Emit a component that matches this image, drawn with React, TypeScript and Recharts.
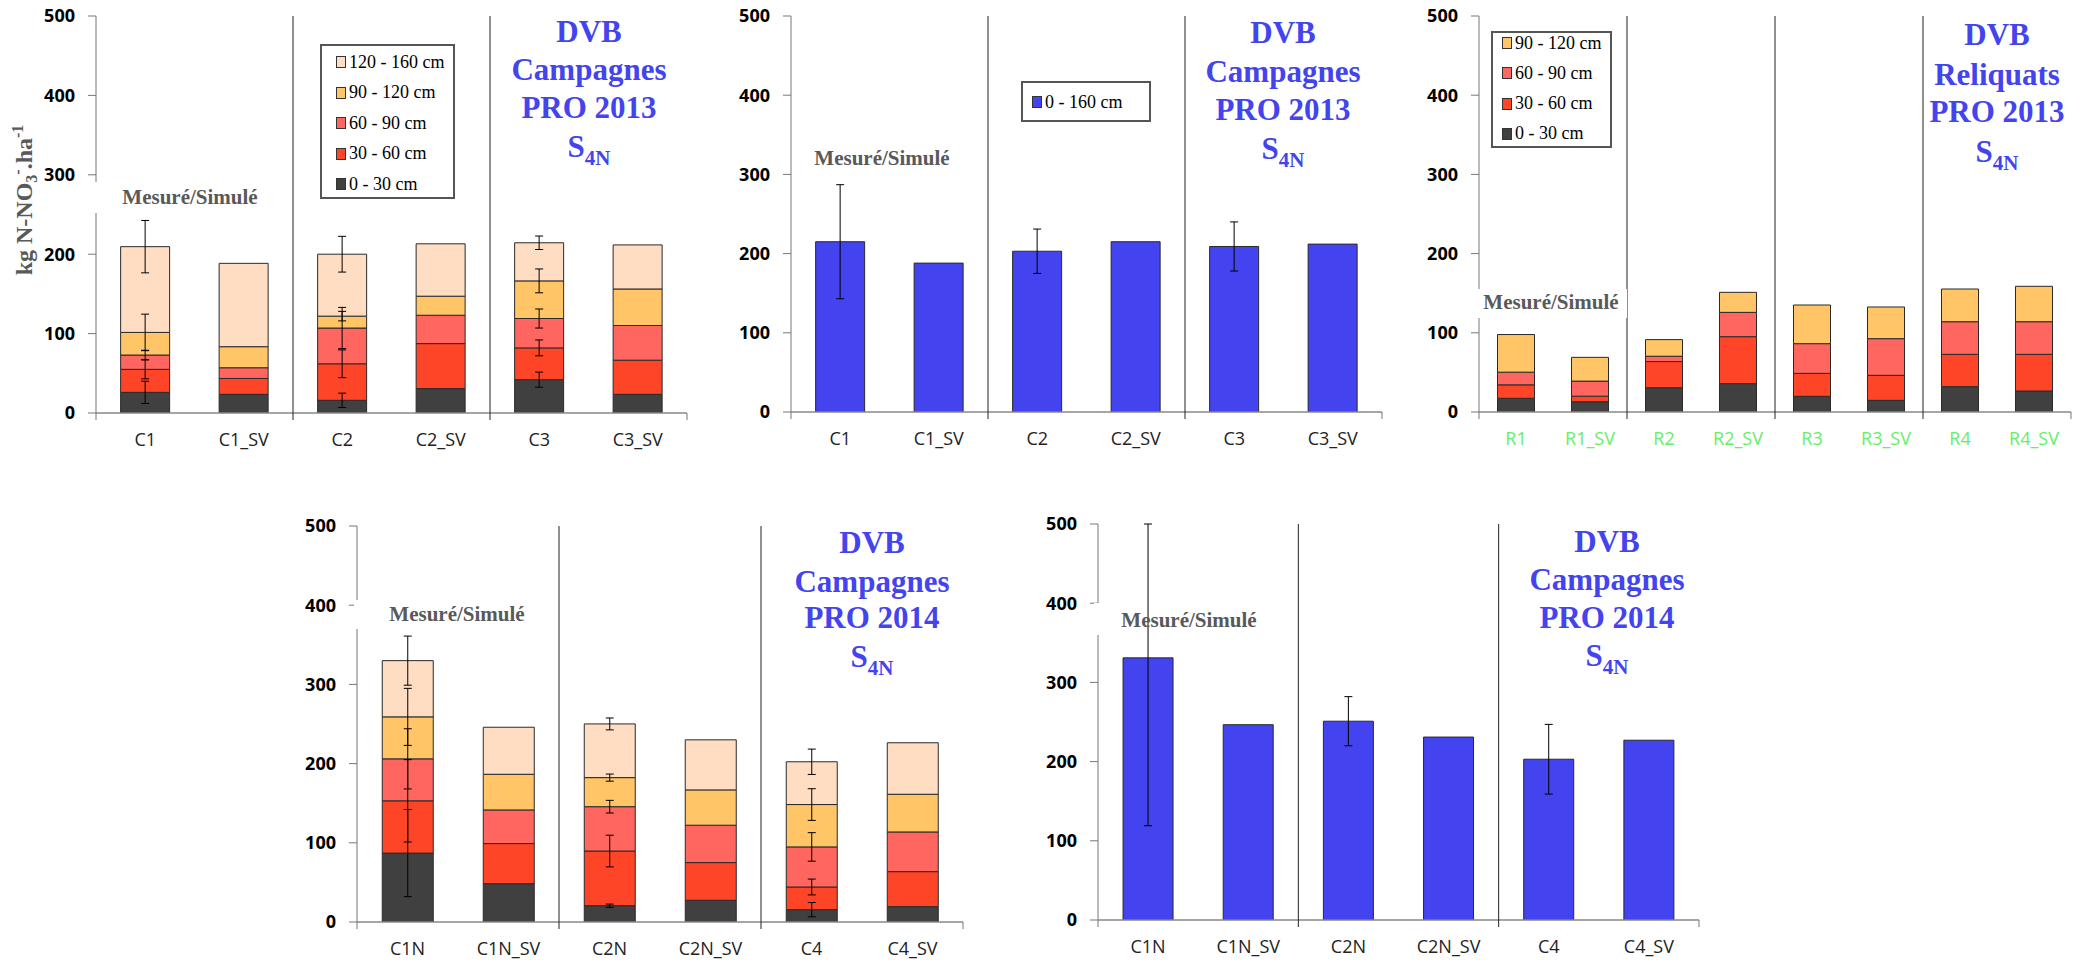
import React from "react";
import { BarChart, Bar, XAxis, YAxis, ErrorBar, Legend } from "recharts";

// ---- Campagnes PRO 2013 (stacked by depth, then total 0-160 cm)
const camp13Cats = ["C1", "C1_SV", "C2", "C2_SV", "C3", "C3_SV"];
const camp13_0_30 = [26, 23.5, 16, 30.7, 42, 23.5];
const camp13_30_60 = [29, 20, 46, 56.7, 40, 43];
const camp13_60_90 = [18, 13.5, 45, 35.7, 37, 43.7];
const camp13_90_120 = [28.5, 26.5, 15, 24, 47.4, 46];
const camp13_120_160 = [108, 105, 78, 66, 48, 55.5];
const camp13Err_0_30 = [14, null, 9, null, 9.5, null];
const camp13Err_30_60 = [12, null, 17.5, null, 10, null];
const camp13Err_60_90 = [6, null, 26, null, 12, null];
const camp13Err_90_120 = [23, null, 6, null, 15, null];
const camp13Err_120_160 = [33, null, 22.5, null, 8.5, null];
const camp13Total = [215, 188, 203, 215, 209, 212];
const camp13TotalErr = [72, null, 28, null, 31, null];

// ---- Reliquats PRO 2013
const reliqCats = ["R1", "R1_SV", "R2", "R2_SV", "R3", "R3_SV", "R4", "R4_SV"];
const reliq_0_30 = [17.3, 13, 30.7, 35.8, 19.8, 14.7, 32, 26.5];
const reliq_30_60 = [17, 7, 33, 59.3, 29, 31.6, 40.8, 46.3];
const reliq_60_90 = [16, 19, 6.7, 30.7, 37.5, 46.3, 41.2, 41.2];
const reliq_90_120 = [47.5, 30, 21, 25.3, 48.8, 40, 41.3, 44.7];

// ---- Campagnes PRO 2014
const camp14Cats = ["C1N", "C1N_SV", "C2N", "C2N_SV", "C4", "C4_SV"];
const camp14_0_30 = [87, 48.4, 20.6, 27.4, 15.6, 19.4];
const camp14_30_60 = [66, 50.6, 69, 47.6, 28.6, 44.2];
const camp14_60_90 = [53, 42.5, 56, 47.2, 50.6, 50.1];
const camp14_90_120 = [53, 45, 36.7, 44.6, 53.5, 47.6];
const camp14_120_160 = [71, 59.4, 67.8, 63.2, 54, 65];
const camp14Err_0_30 = [55, null, 2, null, 9, null];
const camp14Err_30_60 = [52, null, 20, null, 10, null];
const camp14Err_60_90 = [38, null, 8, null, 18, null];
const camp14Err_90_120 = [36, null, 4.5, null, 20, null];
const camp14Err_120_160 = [31, null, 7.5, null, 16, null];
const camp14Total = [331, 246.6, 251, 231, 203, 227];
const camp14TotalErr: any[] = [[212, 169], null, 31, null, 44, null];

const yTicks = [0, 100, 200, 300, 400, 500];

const DEPTHS = [
  { name: "0 - 30 cm", color: "#404040" },
  { name: "30 - 60 cm", color: "#FF4528" },
  { name: "60 - 90 cm", color: "#FF665F" },
  { name: "90 - 120 cm", color: "#FFC566" },
  { name: "120 - 160 cm", color: "#FFDDC2" },
];
const BLUE = "#4343F0";
const TITLE_BLUE = "#4444EE";

const LEFT = 90;
const TOP = 16;
const RIGHT = 10;
const BOTTOM = 50;

function buildRows(cats: string[], layers: number[][], errs: any[][] | null) {
  return cats.map((cat, i) => {
    const row: any = { cat };
    layers.forEach((arr, k) => {
      row["v" + k] = arr[i];
      row["e" + k] = errs ? errs[k][i] : null;
    });
    return row;
  });
}

// legend drawn deepest layer first, like the stack
function LegendBox({ payload, cfg }: any) {
  const items = [...(payload || [])].sort(
    (a: any, b: any) => Number(String(b.dataKey).slice(1)) - Number(String(a.dataKey).slice(1))
  );
  return (
    <div
      style={{
        width: cfg.w,
        height: cfg.h,
        border: "2px solid #555",
        boxSizing: "border-box",
        background: "#fff",
        position: "relative",
      }}
    >
      {items.map((it: any, i: number) => (
        <div
          key={i}
          style={{
            position: "absolute",
            left: cfg.pl,
            top: cfg.c0 - 2 + i * cfg.gap - 11,
            height: 22,
            display: "flex",
            alignItems: "center",
            whiteSpace: "nowrap",
          }}
        >
          <span
            style={{
              display: "inline-block",
              width: 8,
              height: 10,
              background: it.color,
              border: "1px solid #333",
              marginRight: 3,
            }}
          />
          <span style={{ fontFamily: "'Liberation Serif', serif", fontSize: 18, color: "#000" }}>{it.value}</span>
        </div>
      ))}
    </div>
  );
}

function Panel({ box, data, series, labelColor, legend }: any) {
  const plotW = box.x1 - box.x0;
  const plotH = box.y1 - box.y0;
  const w = plotW + LEFT + RIGHT;
  const h = plotH + TOP + BOTTOM;
  const n = data.length;
  const bw = plotW / n;
  const yb = TOP + plotH;
  const ox = box.x0 - LEFT;
  const oy = box.y0 - TOP;

  const catTick = (p: any) => {
    const { x, index, payload } = p;
    return (
      <g>
        {index % 2 === 0 && (
          <line
            x1={x - bw / 2}
            x2={x - bw / 2}
            y1={index === 0 ? yb : TOP}
            y2={yb + 7}
            stroke={index === 0 ? "#777" : "#222"}
            strokeWidth={1}
          />
        )}
        {index === n - 1 && <line x1={x + bw / 2} x2={x + bw / 2} y1={yb} y2={yb + 7} stroke="#777" />}
        <text x={x} y={yb + 33} textAnchor="middle" fill={labelColor} fontSize={18} fontFamily="'Open Sans', sans-serif">
          {payload.value}
        </text>
      </g>
    );
  };

  return (
    <div style={{ position: "absolute", left: ox, top: oy }}>
      <BarChart
        width={w}
        height={h}
        data={data}
        margin={{ top: TOP, right: RIGHT, left: 0, bottom: 0 }}
        barCategoryGap="25%"
      >
        <XAxis
          dataKey="cat"
          height={BOTTOM}
          interval={0}
          tickLine={false}
          axisLine={{ stroke: "#888", strokeWidth: 1.5 }}
          tick={catTick}
        />
        <XAxis xAxisId="top" orientation="top" dataKey="cat" height={0} tick={false} tickLine={false} axisLine={{ stroke: "#222" }} />
        <YAxis
          width={LEFT}
          domain={[0, 500]}
          ticks={yTicks}
          allowDataOverflow
          tickSize={8}
          tickMargin={13}
          axisLine={{ stroke: "#777" }}
          tickLine={{ stroke: "#777" }}
          tick={{ fill: "#000", fontSize: 18, fontWeight: 700, fontFamily: "'Open Sans', sans-serif" }}
        />
        <YAxis yAxisId="r" orientation="right" width={0} domain={[0, 500]} tick={false} tickLine={false} axisLine={{ stroke: "#444" }} />
        {legend && (
          <Legend
            layout="vertical"
            align="center"
            verticalAlign="middle"
            wrapperStyle={{ left: legend.x - ox, top: legend.y - oy, width: legend.w, height: legend.h }}
            content={(props: any) => <LegendBox payload={props.payload} cfg={legend} />}
          />
        )}
        {series.map((s: any, k: number) => (
          <Bar
            key={k}
            dataKey={"v" + k}
            name={s.name}
            stackId="a"
            fill={s.color}
            stroke="#2a2a2a"
            strokeWidth={1}
            isAnimationActive={false}
          >
            <ErrorBar dataKey={"e" + k} width={4} stroke="#000" strokeWidth={1} direction="y" />
          </Bar>
        ))}
      </BarChart>
    </div>
  );
}

const p1Data = buildRows(
  camp13Cats,
  [camp13_0_30, camp13_30_60, camp13_60_90, camp13_90_120, camp13_120_160],
  [camp13Err_0_30, camp13Err_30_60, camp13Err_60_90, camp13Err_90_120, camp13Err_120_160]
);
const p2Data = buildRows(camp13Cats, [camp13Total], [camp13TotalErr]);
const p3Data = buildRows(reliqCats, [reliq_0_30, reliq_30_60, reliq_60_90, reliq_90_120], null);
const p4Data = buildRows(
  camp14Cats,
  [camp14_0_30, camp14_30_60, camp14_60_90, camp14_90_120, camp14_120_160],
  [camp14Err_0_30, camp14Err_30_60, camp14Err_60_90, camp14Err_90_120, camp14Err_120_160]
);
const p5Data = buildRows(camp14Cats, [camp14Total], [camp14TotalErr]);

const blueSeries = [{ name: "0 - 160 cm", color: BLUE }];

function Title({ cx, base, lines }: { cx: number; base: number[]; lines: string[] }) {
  const st = { fontFamily: "'Liberation Serif', serif", fontWeight: 700, fontSize: 31, fill: TITLE_BLUE } as any;
  return (
    <g>
      {lines.map((t, i) => (
        <text key={i} x={cx} y={base[i]} textAnchor="middle" style={st}>
          {t}
        </text>
      ))}
      <text x={cx} y={base[3]} textAnchor="middle" style={st}>
        <tspan>S</tspan>
        <tspan dy={8} fontSize={21}>4N</tspan>
      </text>
    </g>
  );
}

function Mesure({ cx, base, rect }: { cx: number; base: number; rect: number[] }) {
  return (
    <g>
      <rect x={rect[0]} y={rect[1]} width={rect[2]} height={rect[3]} fill="#fff" />
      <text
        x={cx}
        y={base}
        textAnchor="middle"
        style={{ fontFamily: "'Liberation Serif', serif", fontWeight: 700, fontSize: 21, fill: "#595959" }}
      >
        Mesuré/Simulé
      </text>
    </g>
  );
}

export default function App() {
  return (
    <div style={{ position: "absolute", left: 0, top: 0, width: 2091, height: 964, background: "#fff", overflow: "hidden" }}>
      <Panel
        box={{ x0: 96, y0: 16, x1: 687, y1: 413 }}
        data={p1Data}
        series={DEPTHS}
        labelColor="#222"
        legend={{ x: 320, y: 44, w: 135, h: 155, pl: 14, c0: 18, gap: 30.5 }}
      />
      <Panel
        box={{ x0: 791, y0: 16, x1: 1382, y1: 412 }}
        data={p2Data}
        series={blueSeries}
        labelColor="#222"
        legend={{ x: 1021, y: 81, w: 130, h: 41, pl: 9, c0: 21, gap: 30 }}
      />
      <Panel
        box={{ x0: 1479, y0: 16, x1: 2071, y1: 412 }}
        data={p3Data}
        series={DEPTHS.slice(0, 4)}
        labelColor="#66EE66"
        legend={{ x: 1491, y: 31, w: 121, h: 117, pl: 9, c0: 12, gap: 30.3 }}
      />
      <Panel box={{ x0: 357, y0: 526, x1: 963, y1: 922 }} data={p4Data} series={DEPTHS} labelColor="#222" />
      <Panel box={{ x0: 1098, y0: 524, x1: 1699, y1: 920 }} data={p5Data} series={blueSeries} labelColor="#222" />

      <svg width={2091} height={964} style={{ position: "absolute", left: 0, top: 0, pointerEvents: "none" }}>
        <Mesure cx={190} base={204} rect={[90, 182, 180, 31]} />
        <Mesure cx={882} base={165} rect={[812, 148, 140, 24]} />
        <Mesure cx={1551} base={309} rect={[1477, 289, 150, 29]} />
        <Mesure cx={457} base={621} rect={[354, 600, 204, 29]} />
        <Mesure cx={1189} base={627} rect={[1094, 603, 24, 32]} />

        <Title cx={589} base={[42, 80, 118, 157]} lines={["DVB", "Campagnes", "PRO 2013"]} />
        <Title cx={1283} base={[43, 82, 120, 159]} lines={["DVB", "Campagnes", "PRO 2013"]} />
        <Title cx={1997} base={[45, 85, 122, 162]} lines={["DVB", "Reliquats", "PRO 2013"]} />
        <Title cx={872} base={[553, 592, 628, 667]} lines={["DVB", "Campagnes", "PRO 2014"]} />
        <Title cx={1607} base={[552, 590, 628, 666]} lines={["DVB", "Campagnes", "PRO 2014"]} />

        <text
          transform="translate(32,200) rotate(-90)"
          textAnchor="middle"
          style={{ fontFamily: "'Liberation Serif', serif", fontWeight: 700, fontSize: 24, fill: "#595959" }}
        >
          <tspan>kg N-NO</tspan>
          <tspan fontSize={16} dy={5}>3</tspan>
          <tspan fontSize={16} dy={-14}>-</tspan>
          <tspan dy={9}>.ha</tspan>
          <tspan fontSize={16} dy={-9}>-1</tspan>
        </text>
      </svg>
    </div>
  );
}
